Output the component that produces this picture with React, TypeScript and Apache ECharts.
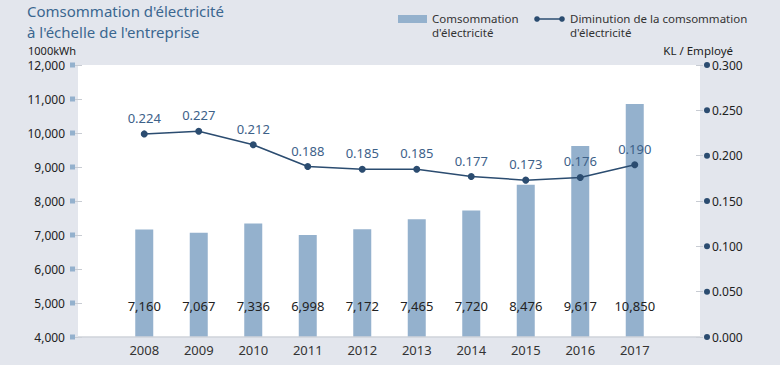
import React, { useEffect, useRef } from "react";
import * as echarts from "echarts";

const categories = ["2008", "2009", "2010", "2011", "2012", "2013", "2014", "2015", "2016", "2017"];
const consumption = [7160, 7067, 7336, 6998, 7172, 7465, 7720, 8476, 9617, 10850];
const perEmployee = [0.224, 0.227, 0.212, 0.188, 0.185, 0.185, 0.177, 0.173, 0.176, 0.19];
const barName = "Comsommation\nd'électricité";
const lineName = "Diminution de la comsommation\nd'électricité";
const titleLines = ["Comsommation d'électricité", "à l'échelle de l'entreprise"];
const leftUnit = "1000kWh";
const rightUnit = "KL / Employé";

const FONT = "Noto Sans";
const BAR_COLOR = "#94b1cd";
const LINE_COLOR = "#2b4c70";
const BG = "#e3e6ed";
const TITLE_COLOR = "#3b6790";

export default function App() {
  const ref = useRef<HTMLDivElement>(null);
  useEffect(() => {
    if (!ref.current) return;
    const chart = echarts.init(ref.current, undefined, { renderer: "svg" });
    chart.setOption({
      animation: false,
      backgroundColor: BG,
      textStyle: { fontFamily: FONT },
      graphic: [
        { type: "rect", z: -10, shape: { x: 78, y: 65, width: 622, height: 272 }, style: { fill: "#ffffff" } },
        { type: "line", z: 5, shape: { x1: 78, y1: 337, x2: 700, y2: 337 }, style: { stroke: "#cfd3da", lineWidth: 1.5 } },
        { type: "text", x: 27, y: 11, style: { text: titleLines[0], fill: TITLE_COLOR, fontSize: 15, fontFamily: FONT, verticalAlign: "middle" } },
        { type: "text", x: 27, y: 32, style: { text: titleLines[1], fill: TITLE_COLOR, fontSize: 15, fontFamily: FONT, verticalAlign: "middle" } },
        { type: "text", x: 28, y: 50.5, style: { text: leftUnit, fill: "#222", fontSize: 11, fontFamily: FONT, verticalAlign: "middle" } },
        { type: "text", x: 733, y: 50, style: { text: rightUnit, fill: "#222", fontSize: 11.5, fontFamily: FONT, align: "right", verticalAlign: "middle" } },
        // legend
        { type: "rect", shape: { x: 398, y: 15, width: 29, height: 8 }, style: { fill: BAR_COLOR } },
        { type: "text", x: 432, y: 11, style: { text: barName, fill: "#333", fontSize: 11.5, lineHeight: 14.5, fontFamily: FONT } },
        { type: "line", shape: { x1: 537, y1: 19, x2: 562, y2: 19 }, style: { stroke: LINE_COLOR, lineWidth: 1.5 } },
        { type: "circle", shape: { cx: 537, cy: 19, r: 2.8 }, style: { fill: LINE_COLOR } },
        { type: "circle", shape: { cx: 562, cy: 19, r: 2.8 }, style: { fill: LINE_COLOR } },
        { type: "text", x: 570, y: 11, style: { text: lineName, fill: "#333", fontSize: 11.5, lineHeight: 14.5, fontFamily: FONT } },
      ],
      grid: { left: 117, right: 118, top: 65, bottom: 28 },
      xAxis: {
        type: "category",
        data: categories,
        axisLine: { show: false },
        axisTick: { show: false },
        axisLabel: { color: "#333", fontSize: 13, margin: 6, fontFamily: FONT },
      },
      yAxis: [
        {
          type: "value",
          position: "left",
          offset: 35,
          min: 4000,
          max: 12000,
          interval: 1000,
          splitLine: { show: false },
          axisLine: { show: false },
          axisTick: { show: true, length: 7, lineStyle: { color: "#c8ccd3" } },
          axisLabel: {
            margin: 7,
            formatter: (v: number) => `{v|${v.toLocaleString("en-US")}}{g|}{s|}`,
            rich: {
              v: { color: "#222", fontSize: 12, fontFamily: FONT },
              g: { width: 5 },
              s: { width: 5, height: 5, backgroundColor: BAR_COLOR },
            },
          },
        },
        {
          type: "value",
          position: "right",
          offset: 34,
          min: 0,
          max: 0.3,
          interval: 0.05,
          splitLine: { show: false },
          axisLine: { show: false },
          axisTick: { show: true, length: 7, lineStyle: { color: "#c8ccd3" } },
          axisLabel: {
            margin: 8,
            formatter: (v: number) => `{s|}{g|}{v|${v.toFixed(3)}}`,
            rich: {
              v: { color: "#222", fontSize: 12, fontFamily: FONT },
              g: { width: 2 },
              s: { width: 6, height: 6, borderRadius: 3, backgroundColor: LINE_COLOR },
            },
          },
        },
      ],
      series: [
        {
          name: barName,
          type: "bar",
          data: consumption,
          barWidth: 18,
          itemStyle: { color: BAR_COLOR },
          label: {
            show: true,
            position: "insideBottom",
            distance: 25,
            color: "#222",
            fontSize: 13,
            fontFamily: FONT,
            formatter: (p: any) => Number(p.value).toLocaleString("en-US"),
          },
        },
        {
          name: lineName,
          type: "line",
          yAxisIndex: 1,
          data: perEmployee,
          symbol: "circle",
          symbolSize: 7,
          lineStyle: { color: LINE_COLOR, width: 1.5 },
          itemStyle: { color: LINE_COLOR },
          label: {
            show: true,
            position: "top",
            distance: 6,
            color: "#3d6189",
            fontSize: 13,
            fontFamily: FONT,
            formatter: (p: any) => Number(p.value).toFixed(3),
          },
        },
      ],
    });
    return () => chart.dispose();
  }, []);
  return <div ref={ref} style={{ width: 780, height: 365, position: "absolute", left: 0, top: 0 }} />;
}
